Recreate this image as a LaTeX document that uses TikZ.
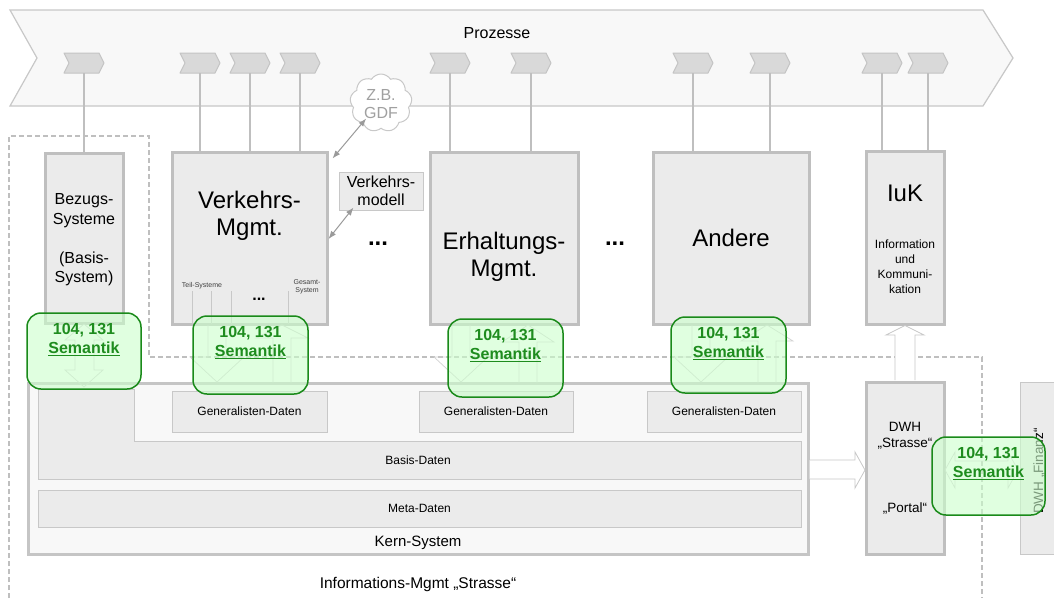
\documentclass[tikz,border=0pt]{standalone}
\usepackage{fontspec}
\setmainfont{Liberation Sans}
\usetikzlibrary{shapes.symbols,arrows.meta,calc}
\definecolor{bannerfill}{HTML}{F8F8F8}
\definecolor{bannerdraw}{HTML}{C8C8C8}
\definecolor{chevfill}{HTML}{D9D9D9}
\definecolor{chevdraw}{HTML}{C4C4C4}
\definecolor{conngray}{HTML}{BFBFBF}
\definecolor{boxfill}{HTML}{EBEBEB}
\definecolor{thindraw}{HTML}{C8C8C8}
\definecolor{kernfill}{HTML}{F8F8F8}
\definecolor{faint}{HTML}{D2D2D2}
\definecolor{semfill}{HTML}{CCFFCC}
\definecolor{semdraw}{HTML}{1A8A1A}
\definecolor{semtext}{HTML}{1E8C1E}
\definecolor{arrgray}{HTML}{9A9A9A}
\definecolor{cloudtext}{HTML}{A0A0A0}
\begin{document}
\begin{tikzpicture}[x=1pt,y=-1pt,
  banner/.style={draw=bannerdraw,fill=bannerfill,line width=1.2pt},
  chev/.style={draw=chevdraw,fill=chevfill,line width=1pt,line join=round},
  conn/.style={draw=conngray,line width=2pt},
  sysbox/.style={draw=conngray,fill=boxfill,line width=3pt,inner sep=0pt},
  thinbox/.style={draw=thindraw,fill=boxfill,line width=1pt,inner sep=0pt},
  dashline/.style={draw=conngray,line width=2pt,dash pattern=on 5pt off 3pt},
  blockarr/.style={draw=thindraw,fill=white,line width=0.8pt,line join=miter},
  faintarr/.style={draw=faint,line width=0.7pt},
  dblarr/.style={draw=arrgray,line width=1pt,{Latex[length=8pt,width=6pt]}-{Latex[length=8pt,width=6pt]}},
  sembox/.style={draw=semdraw,fill=semfill,fill opacity=0.6,line width=1.5pt,rounded corners=14pt,inner sep=0pt},
  semlabel/.style={text=semtext,font=\fontsize{16}{19}\selectfont\bfseries,align=center,inner sep=0pt},
  txt/.style={inner sep=0pt,align=center},
  big/.style={txt,font=\fontsize{24}{27}\selectfont},
  mid/.style={txt,font=\fontsize{16}{19.5}\selectfont},
  small/.style={txt,font=\fontsize{12}{15}\selectfont},
  tiny/.style={txt,font=\fontsize{7}{8}\selectfont,text=black!75},
]
\useasboundingbox (0,0) rectangle (1054,598);
\fill[white] (0,0) rectangle (1054,598);

% process banner
\draw[banner] (10,10) -- (983,10) -- (1013,58) -- (983,106) -- (10,106) -- (37,58) -- cycle;
\node[mid,font=\fontsize{16}{19}\selectfont] (proz) at (497,33) {Prozesse};
\foreach \x/\n in {64/1,180/2,230/3,280/4,430/5,511/6,673/7,750/8,862/9,908/10} {
  \draw[chev] (\x,53) -- ++(35,0) -- ++(5,10) -- ++(-5,10) -- ++(-35,0) -- ++(5,-10) -- cycle;
  \coordinate (c\n) at ({\x+20},73);
}

% dashed region
\draw[dashline] (9,598) -- (9,136) -- (149,136) -- (149,357) -- (982,357) -- (982,598);

% system boxes
\node[sysbox,minimum width=78pt,minimum height=170pt] (bez) at (84,238) {};
\node[sysbox,minimum width=155pt,minimum height=172pt] (vm) at (249.5,238) {};
\node[sysbox,minimum width=148pt,minimum height=172pt] (erh) at (504,238) {};
\node[sysbox,minimum width=156pt,minimum height=172pt] (and) at (731,238) {};
\node[sysbox,minimum width=78pt,minimum height=173pt] (iuk) at (905,237.5) {};
\node[sysbox,minimum width=78pt,minimum height=172pt] (dwh) at (905,468) {};
\node[thinbox,minimum width=60pt,minimum height=172pt,anchor=west] (fin) at (1020,468) {};

% connectors from process steps
\draw[conn] (c1) -- (c1 |- bez.north);
\draw[conn] (c2) -- (c2 |- vm.north);
\draw[conn] (c3) -- (c3 |- vm.north);
\draw[conn] (c4) -- (c4 |- vm.north);
\draw[conn] (c5) -- (c5 |- erh.north);
\draw[conn] (c6) -- (c6 |- erh.north);
\draw[conn] (c7) -- (c7 |- and.north);
\draw[conn] (c8) -- (c8 |- and.north);
\draw[conn] (c9) -- (c9 |- iuk.north);
\draw[conn] (c10) -- (c10 |- iuk.north);

% labels of system boxes
\node[mid] (bezt) at (84,240) {Bezugs-\\Systeme\\[19.5pt](Basis-\\System)};
\node[big] (vmt) at (249.5,216) {Verkehrs-\\Mgmt.};
\node[big] (erht) at (504,257) {Erhaltungs-\\Mgmt.};
\node[big] (andt) at (731,238) {Andere};
\node[big] (iukt) at (905,193) {IuK};
\node[small] (iuks) at (905,267) {Information\\und\\Kommuni-\\kation};
\node[txt,font=\fontsize{13.5}{16}\selectfont] (dwht) at (905,436) {DWH\\„Strasse“};
\node[txt,font=\fontsize{13.5}{16}\selectfont] (dwhp) at (905,508) {„Portal“};
\node[txt,font=\fontsize{13.5}{16}\selectfont,rotate=90] (fint) at (1039,471) {DWH „Finanz“};

% Verkehrs-Mgmt sub systems
\draw[draw=thindraw,line width=0.8pt] (192,291) -- (192,324) (211,291) -- (211,324) (231,291) -- (231,324) (288,291) -- (288,324);
\node[tiny] (teil) at (202,286) {Teil-Systeme};
\node[tiny] (ges) at (307,287) {Gesamt-\\System};
\node[txt,font=\fontsize{16}{19}\selectfont\bfseries] (vmdots) at (259,299) {...};

% Verkehrsmodell and cloud
\node[thinbox,minimum width=84pt,minimum height=38pt] (vmod) at (381,191) {};
\node[mid,font=\fontsize{16}{18}\selectfont] (vmodt) at (381,191) {Verkehrs-\\modell};
\node[cloud,cloud puffs=9,cloud puff arc=115,aspect=1,draw=thindraw,fill=white,line width=1pt,minimum width=62pt,minimum height=58pt,inner sep=0pt] (cloud) at (381,103) {};
\node[txt,font=\fontsize{16}{18}\selectfont,text=cloudtext] (cloudt) at (381,104) {Z.B.\\GDF};
\draw[dblarr] ($(vm.north east)+(4,8)$) -- ($(cloud.south west)+(6,-4)$);
\draw[dblarr] ($(vm.east)+(0,1)$) -- ($(vmod.south west)+(15,-3)$);

% dots between boxes
\node[txt,font=\fontsize{24}{27}\selectfont\bfseries] (dots1) at (378,244) {...};
\node[txt,font=\fontsize{24}{27}\selectfont\bfseries] (dots2) at (615,244) {...};

% Kern-System
\node[sysbox,draw=conngray!90,fill=kernfill,minimum width=780pt,minimum height=171pt] (kern) at (418,468.5) {};
\draw[thinbox] (38,389) -- (134,389) -- (134,441) -- (801,441) -- (801,479) -- (38,479) -- cycle;
\node[small] (basis) at (418,460) {Basis-Daten};
\node[thinbox,minimum width=763pt,minimum height=37pt] (meta) at (419.5,508.5) {};
\node[small] (metat) at (419.5,508.5) {Meta-Daten};
\node[thinbox,minimum width=155pt,minimum height=41pt] (gen1) at (249.5,411.5) {};
\node[thinbox,minimum width=154pt,minimum height=41pt] (gen2) at (496,411.5) {};
\node[thinbox,minimum width=154pt,minimum height=41pt] (gen3) at (724,411.5) {};
\node[small] (gen1t) at (gen1) {Generalisten-Daten};
\node[small] (gen2t) at (gen2) {Generalisten-Daten};
\node[small] (gen3t) at (gen3) {Generalisten-Daten};
\node[txt,font=\fontsize{15}{18}\selectfont] (kernt) at (418,542.5) {Kern-System};
\node[txt,font=\fontsize{15.5}{18}\selectfont] (imt) at (418,584.5) {Informations-Mgmt „Strasse“};

% block arrows
\draw[blockarr] (895,380) -- (895,335) -- (886,335) -- (905,325.5) -- (924,335) -- (915,335) -- (915,380);
\draw[blockarr] (809.5,460) -- (855,460) -- (855,452) -- (865,470) -- (855,488) -- (855,479) -- (809.5,479);

% faint arrows under semantic boxes
\foreach \t in {217,461,701} {
  \draw[faintarr] ({\t-9},325) -- ({\t-9},357) -- ({\t-27},357) -- (\t,382) -- ({\t+27},357) -- ({\t+9},357) -- ({\t+9},325);
}
\foreach \a/\h in {282/338,528/342,767/341} {
  \draw[faintarr] ({\a-9},383) -- ({\a-9},\h) -- ({\a-26},\h) -- (\a,325) -- ({\a+26},\h) -- ({\a+9},\h) -- ({\a+9},383);
}
\draw[faintarr] (75,340) -- (65,340) -- (84,324) -- (103,340) -- (94,340) -- (94,370) -- (103,370) -- (84,387) -- (65,370) -- (75,370) -- cycle;
\draw[faintarr] (955,461) -- (955,452) -- (945,470) -- (955,488) -- (955,479) -- (1008,479) -- (1008,488) -- (1018,470) -- (1008,452) -- (1008,461) -- cycle;

% semantic boxes
\node[sembox,minimum width=114pt,minimum height=76pt] (s1) at (84,351) {};
\node[sembox,minimum width=115pt,minimum height=78pt] (s2) at (250.5,355) {};
\node[sembox,minimum width=115pt,minimum height=78pt] (s3) at (505.5,358) {};
\node[sembox,minimum width=115pt,minimum height=76pt] (s4) at (728.5,355) {};
\node[sembox,minimum width=113pt,minimum height=78pt] (s5) at (988.5,476) {};
\foreach \s in {s1,s2,s3,s4,s5} {
  \node[semlabel] (\s t) at ($(\s.north)+(0,27)$) {104, 131\\\underline{Semantik}};
}
\end{tikzpicture}
\end{document}
